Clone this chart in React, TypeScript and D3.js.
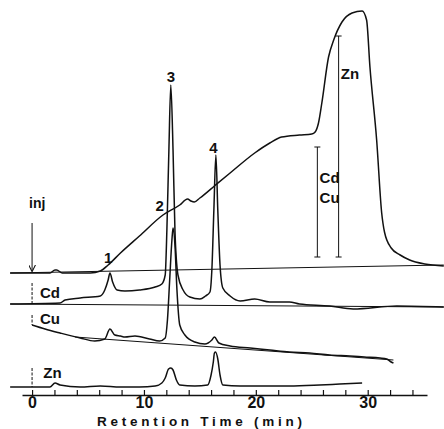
import React, { useEffect, useRef } from 'react';
import * as d3 from 'd3';

const WIDTH = 444;
const HEIGHT = 429;

// retention time (min) and detector response (arbitrary units, 0 = time axis)
// gradient / UV trace (top)
const mainTime = [-1.96, 1.6, 2.05, 2.2, 2.7, 5.2, 6.1, 6.8, 7.9, 9.6, 11.7, 13.2, 13.9, 14.2, 14.5, 15.0, 16.4, 17.7, 19.9, 21.25, 22.3, 23.9, 25.0, 25.3, 25.6, 25.9, 26.5, 26.96, 27.7, 28.6, 29.5, 29.9, 30.2, 30.8, 31.25, 31.5, 32.1, 32.9, 33.75, 35.1, 36.8];
const mainResp = [122, 122, 125, 125, 122, 122, 124, 130, 142, 159, 180, 190, 196, 194, 193, 197, 210, 222, 242, 252, 258, 260, 261, 263, 272, 292, 338, 355, 373, 382, 384, 375, 328, 255, 182, 163, 147, 140, 135, 131, 129];

// Cd trace
const cdTime = [-1.96, 2.5, 2.95, 4.3, 6.1, 6.5, 6.8, 6.96, 7.2, 7.6, 8.3, 9.6, 11.0, 11.6, 11.9, 12.05, 12.23, 12.4, 12.6, 12.77, 13.04, 13.5, 14.1, 15.0, 15.5, 15.9, 16.07, 16.25, 16.43, 16.6, 16.8, 17.05, 17.7, 18.6, 19.9, 21.25, 23.0, 23.9, 26.6, 28.7, 32.6, 36.8];
const cdResp = [91, 92, 95, 97, 99, 105, 115, 122, 113, 105, 104, 105, 108, 111, 120, 165, 245, 310, 245, 165, 120, 105, 98, 96, 99, 103, 125, 185, 240, 185, 130, 107, 99, 94, 96, 93, 93, 91, 89, 86, 89, 88];

// Cu trace
const cuTime = [0, 1.16, 2.5, 4.3, 5.6, 6.5, 6.96, 7.4, 7.9, 8.3, 9.2, 10.5, 11.4, 11.9, 12.1, 12.3, 12.5, 12.6, 12.77, 12.95, 13.2, 13.66, 14.55, 15.45, 16.07, 16.3, 16.7, 17.7, 19.5, 21.25, 23.0, 24.8, 26.6, 28.4, 29.7, 31.1, 31.7, 32.1, 32.3];
const cuResp = [70, 66, 62, 57, 54, 56, 66, 60, 59, 58, 59, 56, 54, 57, 75, 115, 155, 167, 150, 105, 70, 60, 53, 51, 55, 58, 52, 49, 47, 45, 43, 42, 40, 39, 38, 37, 36, 33, 32];

// Zn trace
const znTime = [-1.96, 1.6, 2.05, 2.5, 4.3, 6.1, 7.9, 9.6, 11.0, 11.6, 11.9, 12.2, 12.4, 12.6, 12.9, 13.2, 14.55, 15.7, 16.0, 16.2, 16.3, 16.4, 16.6, 16.8, 17.05, 18.6, 20.4, 23.0, 25.7, 27.5, 29.5];
const znResp = [8, 8, 12, 10, 8, 9, 8, 8, 9, 12, 17, 26, 27, 25, 15, 10, 9, 10, 20, 33, 42, 43, 36, 20, 10, 9, 9, 9, 10, 11, 12];

// straight drawn baselines: [start time, end time], [start resp, end resp]
const baselineNames = ['main', 'Cd', 'Cu'];
const baselineTime = [[-1.96, 36.8], [-1.96, 36.8], [3.84, 32.3]];
const baselineResp = [[122, 130], [91, 88], [58, 35]];

// injection marks at t = 0 (from, to)
const injMarkResp = [[112, 92], [80, 70], [27, 8]];
const injArrowResp = [172, 124];

// peak numbers
const peakLabels = ['1', '2', '3', '4'];
const peakLabelTime = [6.8, 11.4, 12.4, 16.2];
const peakLabelResp = [138, 190, 319, 248];

// trace labels
const traceLabels = ['Cd', 'Cu', 'Zn'];
const traceLabelTime = [0.7, 0.7, 1.0];
const traceLabelResp = [103, 77, 23];

// scale bars on the right
const barLabels = [['Cd', 'Cu'], ['Zn']];
const barTime = [25.5, 27.4];
const barResp = [[138, 248], [138, 359]];
const barLabelTime = [25.7, 27.6];
const barLabelResp = [[218, 198], [322]];

// x axis
const tickValues = d3.range(0, 35, 2);
const axisTitle = 'Retention Time (min)';

export default function App() {
  const ref = useRef<SVGSVGElement>(null);

  useEffect(() => {
    const svg = d3.select(ref.current);
    svg.selectAll('*').remove();

    const font = '"Liberation Sans", Arial, Helvetica, sans-serif';
    const ink = '#111';

    const x = d3.scaleLinear().domain([-0.9, 35.3]).range([22, 427]);
    const y = d3.scaleLinear().domain([0, 395]).range([395, 0]);

    const zip = (t: number[], v: number[]) => t.map((d, i) => [d, v[i]] as [number, number]);

    const line = d3.line<[number, number]>()
      .x(d => x(d[0]))
      .y(d => y(d[1]))
      .curve(d3.curveMonotoneX);

    // arrow head for "inj"
    svg.append('defs')
      .append('marker')
      .attr('id', 'arr')
      .attr('viewBox', '0 0 10 10')
      .attr('refX', 9)
      .attr('refY', 5)
      .attr('markerWidth', 7)
      .attr('markerHeight', 7)
      .attr('markerUnits', 'userSpaceOnUse')
      .attr('orient', 'auto')
      .append('path')
      .attr('d', 'M0,0 L10,5 L0,10')
      .attr('fill', 'none')
      .attr('stroke', ink)
      .attr('stroke-width', 1.5);

    // straight baselines
    svg.append('g')
      .selectAll('line')
      .data(baselineNames)
      .enter()
      .append('line')
      .attr('x1', (d, i) => x(baselineTime[i][0]))
      .attr('x2', (d, i) => x(baselineTime[i][1]))
      .attr('y1', (d, i) => y(baselineResp[i][0]))
      .attr('y2', (d, i) => y(baselineResp[i][1]))
      .attr('stroke', ink)
      .attr('stroke-width', 1);

    // traces
    const traces = [
      zip(mainTime, mainResp),
      zip(cdTime, cdResp),
      zip(cuTime, cuResp),
      zip(znTime, znResp),
    ];
    svg.append('g')
      .selectAll('path')
      .data(traces)
      .enter()
      .append('path')
      .attr('d', d => line(d))
      .attr('fill', 'none')
      .attr('stroke', ink)
      .attr('stroke-width', 1.5)
      .attr('stroke-linejoin', 'round');

    // injection marks
    svg.append('line')
      .attr('x1', x(0)).attr('x2', x(0))
      .attr('y1', y(injArrowResp[0])).attr('y2', y(injArrowResp[1]))
      .attr('stroke', ink)
      .attr('stroke-width', 1)
      .attr('marker-end', 'url(#arr)');
    svg.append('g')
      .selectAll('line')
      .data(injMarkResp)
      .enter()
      .append('line')
      .attr('x1', x(0)).attr('x2', x(0))
      .attr('y1', d => y(d[0])).attr('y2', d => y(d[1]))
      .attr('stroke', ink)
      .attr('stroke-width', 1)
      .attr('stroke-dasharray', '3,1.5');

    svg.append('text')
      .attr('x', x(0) - 3)
      .attr('y', y(injArrowResp[0]) - 15)
      .attr('font-family', font)
      .attr('font-weight', 'bold')
      .attr('font-size', 14)
      .attr('fill', ink)
      .text('inj');

    // scale bars
    const bars = svg.append('g');
    barTime.forEach((t, i) => {
      const bx = x(t);
      const [lo, hi] = barResp[i];
      bars.append('line')
        .attr('x1', bx).attr('x2', bx)
        .attr('y1', y(lo)).attr('y2', y(hi))
        .attr('stroke', ink).attr('stroke-width', 1);
      [lo, hi].forEach(v => {
        bars.append('line')
          .attr('x1', bx - 3).attr('x2', bx + 3)
          .attr('y1', y(v)).attr('y2', y(v))
          .attr('stroke', ink).attr('stroke-width', 1);
      });
      barLabels[i].forEach((lab, j) => {
        bars.append('text')
          .attr('x', x(barLabelTime[i]))
          .attr('y', y(barLabelResp[i][j]))
          .attr('dominant-baseline', 'central')
          .attr('font-family', font)
          .attr('font-weight', 'bold')
          .attr('font-size', 15)
          .attr('fill', ink)
          .text(lab);
      });
    });

    // peak numbers
    svg.append('g')
      .selectAll('text')
      .data(peakLabels)
      .enter()
      .append('text')
      .attr('x', (d, i) => x(peakLabelTime[i]))
      .attr('y', (d, i) => y(peakLabelResp[i]))
      .attr('text-anchor', 'middle')
      .attr('dominant-baseline', 'central')
      .attr('font-family', font)
      .attr('font-weight', 'bold')
      .attr('font-size', 15)
      .attr('fill', ink)
      .text(d => d);

    // trace labels
    svg.append('g')
      .selectAll('text')
      .data(traceLabels)
      .enter()
      .append('text')
      .attr('x', (d, i) => x(traceLabelTime[i]))
      .attr('y', (d, i) => y(traceLabelResp[i]))
      .attr('dominant-baseline', 'central')
      .attr('font-family', font)
      .attr('font-weight', 'bold')
      .attr('font-size', 15)
      .attr('fill', ink)
      .text(d => d);

    // time axis
    const axis = d3.axisBottom(x)
      .tickValues(tickValues)
      .tickSizeInner(-5)
      .tickSizeOuter(0)
      .tickPadding(2)
      .tickFormat(d => (+d % 10 === 0 ? String(d) : ''));

    const ax = svg.append('g')
      .attr('transform', 'translate(0,' + y(0) + ')')
      .call(axis);
    ax.select('.domain').attr('stroke', ink).attr('stroke-width', 1.5);
    ax.selectAll('line').attr('stroke', ink).attr('stroke-width', 1.2);
    ax.selectAll('text')
      .attr('font-family', font)
      .attr('font-weight', 'bold')
      .attr('font-size', 16)
      .attr('fill', ink);

    svg.append('text')
      .attr('x', 97)
      .attr('y', y(0) + 31)
      .attr('textLength', 205)
      .attr('lengthAdjust', 'spacing')
      .attr('font-family', font)
      .attr('font-weight', 'bold')
      .attr('font-size', 13.5)
      .attr('fill', ink)
      .text(axisTitle);
  }, []);

  return (
    <svg
      ref={ref}
      width={WIDTH}
      height={HEIGHT}
      style={{ position: 'absolute', left: 0, top: 0, background: '#fff' }}
    />
  );
}
